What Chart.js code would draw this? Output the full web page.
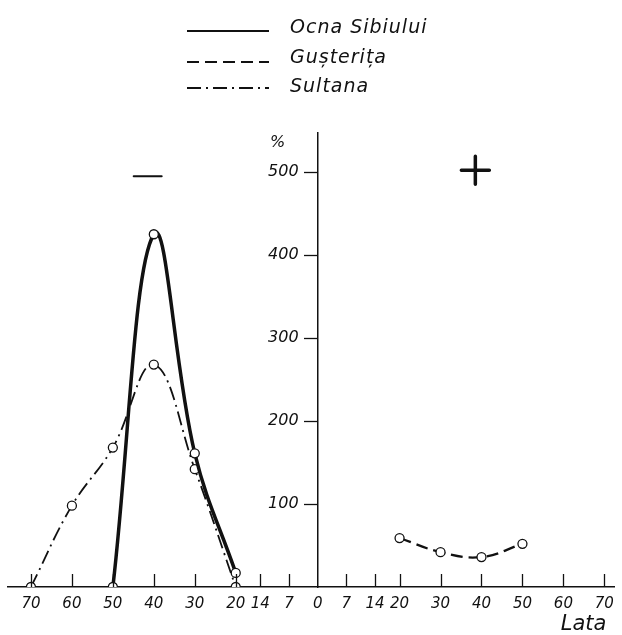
<!DOCTYPE html>
<html>
<head>
<meta charset="utf-8">
<script src="https://cdn.jsdelivr.net/npm/chart.js@4/dist/chart.umd.min.js"></script>
<style>
  html, body { margin: 0; padding: 0; background: #fff; }
  #wrap { width: 622px; height: 635px; position: relative; }
</style>
</head>
<body>
<div id="wrap"><canvas id="chart"></canvas></div>
<script>
  // values (left side = minus, right side = plus)
  const xTicks = [-70, -60, -50, -40, -30, -20, -14, -7, 0, 7, 14, 20, 30, 40, 50, 60, 70];
  const yTicks = [100, 200, 300, 400, 500];

  const ocnaX = [-50, -40, -30, -20];
  const ocnaY = [0, 425, 161, 17];

  const gusteritaX = [20, 30, 40, 50];
  const gusteritaY = [59, 42, 36, 52];

  const sultanaX = [-70, -60, -50, -40, -30, -20];
  const sultanaY = [0, 98, 168, 268, 142, 0];

  const seriesLabels = ["Ocna Sibiului", "Gușterița", "Sultana"];
  const xTitle = "Lata";
  const yUnit = "%";

  // sign marks drawn above each half
  const minusMark = { x: -41.5, y: 495 };
  const plusMark = { x: 38.5, y: 502 };

  const FONT = "'DejaVu Sans', sans-serif";
  const INK = "#111";

  const toPoints = (xs, ys) => xs.map((x, i) => ({ x, y: ys[i] }));

  const pointStyle = {
    pointRadius: 4.5,
    pointBackgroundColor: "#fff",
    pointBorderColor: INK,
    pointBorderWidth: 1.3,
  };

  const axisMarks = {
    id: "axisMarks",
    afterDatasetsDraw(chart) {
      const xs = chart.scales.x;
      const ys = chart.scales.y;
      const ctx = chart.ctx;
      ctx.save();
      // x ticks point upward from the axis line
      ctx.strokeStyle = INK;
      ctx.lineWidth = 1.3;
      xs.ticks.forEach((t) => {
        if (t.value === 0) return;
        const px = Math.round(xs.getPixelForValue(t.value)) + 0.5;
        ctx.beginPath();
        ctx.moveTo(px, xs.top);
        ctx.lineTo(px, xs.top - 13);
        ctx.stroke();
      });
      // y tick labels, left of the centre axis
      const ax = xs.getPixelForValue(0);
      ctx.fillStyle = INK;
      ctx.font = "italic 16px " + FONT;
      ctx.textAlign = "right";
      ctx.textBaseline = "middle";
      ys.ticks.forEach((t) => {
        ctx.fillText(String(t.value), ax - 19, ys.getPixelForValue(t.value));
      });
      // axis title under the right end
      ctx.font = "italic 21px " + FONT;
      ctx.fillText(xTitle, xs.getPixelForValue(70) + 2, 625);
      ctx.restore();
    },
  };

  const extras = {
    id: "extras",
    afterDraw(chart) {
      const ctx = chart.ctx;
      const xs = chart.scales.x;
      const ys = chart.scales.y;
      ctx.save();

      // unit above the vertical axis
      ctx.fillStyle = INK;
      ctx.font = "italic 16px " + FONT;
      ctx.textAlign = "center";
      ctx.textBaseline = "middle";
      ctx.fillText(yUnit, xs.getPixelForValue(0) - 40, chart.chartArea.top + 10);

      // minus / plus marks
      ctx.strokeStyle = INK;
      ctx.lineCap = "round";
      const mx = xs.getPixelForValue(minusMark.x);
      const my = ys.getPixelForValue(minusMark.y);
      ctx.lineWidth = 2;
      ctx.beginPath();
      ctx.moveTo(mx - 14, my);
      ctx.lineTo(mx + 14, my);
      ctx.stroke();

      const px = xs.getPixelForValue(plusMark.x);
      const py = ys.getPixelForValue(plusMark.y);
      ctx.lineWidth = 3.5;
      ctx.beginPath();
      ctx.moveTo(px - 14, py);
      ctx.lineTo(px + 14, py);
      ctx.moveTo(px, py - 14);
      ctx.lineTo(px, py + 14);
      ctx.stroke();

      // legend, stacked at the top
      ctx.font = "italic 19px " + FONT;
      ctx.letterSpacing = "1px";
      ctx.textAlign = "left";
      ctx.textBaseline = "middle";
      const textRows = [28, 58, 87];
      const lineRows = [31, 62, 88];
      chart.data.datasets.forEach((ds, i) => {
        ctx.lineCap = "butt";
        ctx.lineWidth = Math.min(ds.borderWidth, 2);
        ctx.setLineDash(ds.borderDash || []);
        ctx.beginPath();
        ctx.moveTo(187, lineRows[i]);
        ctx.lineTo(269, lineRows[i]);
        ctx.stroke();
        ctx.setLineDash([]);
        ctx.fillText(ds.label, 290, textRows[i]);
      });

      ctx.restore();
    },
  };

  new Chart(document.getElementById("chart"), {
    type: "line",
    data: {
      datasets: [
        {
          label: seriesLabels[0],
          data: toPoints(ocnaX, ocnaY),
          borderColor: INK,
          borderWidth: 3.5,
          tension: 0.4,
          ...pointStyle,
        },
        {
          label: seriesLabels[1],
          data: toPoints(gusteritaX, gusteritaY),
          borderColor: INK,
          borderWidth: 2.3,
          borderDash: [12, 6],
          tension: 0.4,
          ...pointStyle,
        },
        {
          label: seriesLabels[2],
          data: toPoints(sultanaX, sultanaY),
          borderColor: INK,
          borderWidth: 1.8,
          borderDash: [14, 5, 2, 5],
          tension: 0.4,
          ...pointStyle,
        },
      ],
    },
    options: {
      responsive: true,
      maintainAspectRatio: false,
      animation: false,
      layout: { padding: { top: 133, left: 8, right: 1, bottom: 14 } },
      plugins: {
        legend: { display: false },
        tooltip: { enabled: false },
      },
      scales: {
        x: {
          type: "linear",
          min: -75.6,
          max: 72.4,
          afterBuildTicks: (axis) => {
            axis.ticks = xTicks.map((v) => ({ value: v }));
          },
          ticks: {
            color: INK,
            font: { family: FONT, size: 15, style: "italic" },
            padding: 8,
            maxRotation: 0,
            autoSkip: false,
            callback: (v) => Math.abs(v),
          },
          grid: { display: false, drawTicks: false },
          border: { display: true, color: INK, width: 1.5 },
          title: { display: false },
        },
        y: {
          type: "linear",
          position: { x: 0 },
          min: 0,
          max: 547,
          afterBuildTicks: (axis) => {
            axis.ticks = yTicks.map((v) => ({ value: v }));
          },
          ticks: { display: false },
          grid: {
            drawOnChartArea: false,
            drawTicks: true,
            tickLength: 13,
            color: INK,
            tickWidth: 1.3,
          },
          border: { display: true, color: INK, width: 1.5 },
        },
      },
    },
    plugins: [axisMarks, extras],
  });
</script>
</body>
</html>
